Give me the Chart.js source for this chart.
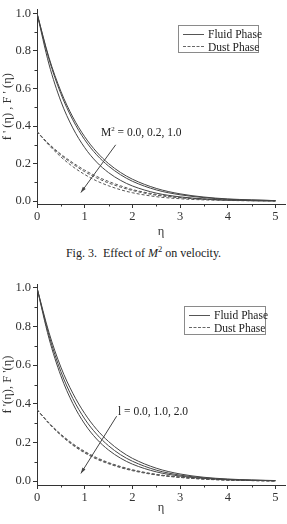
<!DOCTYPE html>
<html>
<head>
<meta charset="utf-8">
<script src="https://cdn.jsdelivr.net/npm/chart.js@4.4.0/dist/chart.umd.min.js"></script>
<style>
body{margin:0;background:#fff;width:287px;height:524px;position:relative;overflow:hidden;font-family:"Liberation Serif",serif;color:#222}
.box{position:absolute;left:0;width:287px}
.legend{position:absolute;border:1px solid #8a8a8a;font-size:11.5px;line-height:12px;padding:2px 4px 1px 4px;background:#fff;white-space:nowrap;box-sizing:border-box}
.legend .row{display:flex;align-items:center;height:12.5px}
.legend .ln{flex:none;width:21px;height:0;border-top:1px solid #555;margin-right:4px}
.legend .ln.dash{border-top:1px dashed #666}
.note{position:absolute;font-size:11.5px;white-space:nowrap}
.caption{position:absolute;top:246px;left:0;width:287px;text-align:center;font-size:12px;white-space:nowrap}
sup{font-size:7px;vertical-align:5px;line-height:0}
</style>
</head>
<body>
<div class="box" style="top:0;height:240px"><canvas id="c1" width="287" height="240"></canvas></div>
<div class="box" style="top:270px;height:254px"><canvas id="c2" width="287" height="254"></canvas></div>

<div class="legend" style="left:178px;top:25px;width:81px;height:28px">
  <div class="row"><div class="ln"></div>Fluid Phase</div>
  <div class="row"><div class="ln dash"></div>Dust Phase</div>
</div>
<div class="legend" style="left:184px;top:306px;width:82px;height:29px">
  <div class="row"><div class="ln"></div>Fluid Phase</div>
  <div class="row"><div class="ln dash"></div>Dust Phase</div>
</div>
<div class="note" style="left:101px;top:126px">M<sup>2</sup> = 0.0, 0.2, 1.0</div>
<div class="note" style="left:118px;top:405px">l = 0.0, 1.0, 2.0</div>
<div class="caption">Fig. 3.&nbsp; Effect of <i>M</i><sup style="font-size:8.5px">2</sup> on velocity.</div>

<script>
// eta grid
const eta = [0, 0.25, 0.5, 0.75, 1, 1.25, 1.5, 1.75, 2, 2.5, 3, 3.5, 4, 4.5, 5];

// Fig 3: M^2 = 0.0, 0.2, 1.0
const fluidM0 = [1, 0.765, 0.585, 0.448, 0.343, 0.262, 0.200, 0.153, 0.117, 0.068, 0.039, 0.022, 0.012, 0.007, 0.003];
const fluidM02 = [1, 0.757, 0.572, 0.433, 0.327, 0.247, 0.187, 0.141, 0.106, 0.060, 0.034, 0.019, 0.010, 0.006, 0.003];
const fluidM1 = [1, 0.730, 0.532, 0.390, 0.285, 0.208, 0.152, 0.111, 0.081, 0.043, 0.023, 0.012, 0.006, 0.003, 0.002];
const dustM0 = [0.37, 0.305, 0.250, 0.205, 0.165, 0.132, 0.105, 0.082, 0.062, 0.036, 0.020, 0.011, 0.006, 0.003, 0.001];
const dustM02 = [0.37, 0.303, 0.246, 0.198, 0.157, 0.124, 0.097, 0.075, 0.057, 0.032, 0.018, 0.010, 0.005, 0.003, 0.001];
const dustM1 = [0.37, 0.298, 0.236, 0.184, 0.142, 0.108, 0.082, 0.061, 0.045, 0.024, 0.013, 0.007, 0.004, 0.002, 0.001];

// Fig 4: l = 0.0, 1.0, 2.0
const fluidL0 = [1, 0.770, 0.590, 0.455, 0.350, 0.268, 0.205, 0.156, 0.118, 0.067, 0.037, 0.020, 0.011, 0.006, 0.003];
const fluidL1 = [1, 0.755, 0.567, 0.428, 0.322, 0.243, 0.183, 0.137, 0.103, 0.057, 0.031, 0.017, 0.009, 0.005, 0.002];
const fluidL2 = [1, 0.740, 0.545, 0.402, 0.296, 0.218, 0.161, 0.119, 0.088, 0.048, 0.026, 0.014, 0.007, 0.004, 0.002];
const dustL0 = [0.37, 0.302, 0.243, 0.194, 0.154, 0.122, 0.096, 0.076, 0.059, 0.035, 0.021, 0.012, 0.006, 0.003, 0.001];
const dustL1 = [0.37, 0.300, 0.240, 0.190, 0.150, 0.118, 0.093, 0.073, 0.057, 0.034, 0.020, 0.011, 0.006, 0.003, 0.001];
const dustL2 = [0.37, 0.298, 0.237, 0.186, 0.146, 0.114, 0.090, 0.070, 0.054, 0.032, 0.019, 0.010, 0.005, 0.003, 0.001];

const xTicks = [0, 1, 2, 3, 4, 5];
const xMinor = [0.5, 1.5, 2.5, 3.5, 4.5];
const yTicks = [0, 0.2, 0.4, 0.6, 0.8, 1.0];
const yMinor = [0.1, 0.3, 0.5, 0.7, 0.9];

const ink = '#333';
const font = { family: '"Liberation Serif", serif', size: 12.5 };

const pts = arr => arr.map((v, i) => ({ x: eta[i], y: v }));

function line(arr, dashed) {
    return {
        data: pts(arr),
        borderColor: dashed ? '#555' : '#444',
        borderWidth: 1,
        borderDash: dashed ? [3, 2] : [],
        pointRadius: 0,
        fill: false,
        cubicInterpolationMode: 'monotone'
    };
}

// minor ticks + the arrow across the curves
const extras = {
    id: 'extras',
    afterDraw(chart, args, opts) {
        const { ctx, scales: { x, y } } = chart;
        ctx.save();
        ctx.strokeStyle = ink;
        ctx.lineWidth = 1;
        xMinor.forEach(v => {
            const px = Math.round(x.getPixelForValue(v)) + 0.5;
            ctx.beginPath(); ctx.moveTo(px, y.bottom); ctx.lineTo(px, y.bottom + 2.5); ctx.stroke();
        });
        yMinor.forEach(v => {
            const py = Math.round(y.getPixelForValue(v)) + 0.5;
            ctx.beginPath(); ctx.moveTo(x.left, py); ctx.lineTo(x.left - 2.5, py); ctx.stroke();
        });
        const a = opts.arrow;
        const x0 = x.getPixelForValue(a[0]), y0 = y.getPixelForValue(a[1]);
        const x1 = x.getPixelForValue(a[2]), y1 = y.getPixelForValue(a[3]);
        ctx.strokeStyle = '#444';
        ctx.beginPath(); ctx.moveTo(x0, y0); ctx.lineTo(x1, y1); ctx.stroke();
        const ang = Math.atan2(y1 - y0, x1 - x0);
        ctx.fillStyle = '#444';
        ctx.beginPath();
        ctx.moveTo(x1, y1);
        ctx.lineTo(x1 - 6 * Math.cos(ang - 0.3), y1 - 6 * Math.sin(ang - 0.3));
        ctx.lineTo(x1 - 6 * Math.cos(ang + 0.3), y1 - 6 * Math.sin(ang + 0.3));
        ctx.closePath(); ctx.fill();
        ctx.restore();
    }
};

function makeChart(id, sets, cfg) {
    return new Chart(document.getElementById(id), {
        type: 'line',
        data: { datasets: sets },
        options: {
            responsive: false,
            animation: false,
            layout: { padding: { top: cfg.top, right: 2, left: 0, bottom: 0 } },
            plugins: { legend: { display: false }, tooltip: { enabled: false }, extras: { arrow: cfg.arrow } },
            scales: {
                x: {
                    type: 'linear', min: 0, max: 5.2,
                    afterBuildTicks: s => { s.ticks = xTicks.map(v => ({ value: v })); },
                    afterFit: s => { s.height = cfg.xh; },
                    ticks: { color: ink, font, padding: 1, maxRotation: 0, callback: v => String(v) },
                    grid: { drawOnChartArea: false, tickLength: 4, color: ink },
                    border: { color: ink },
                    title: { display: true, text: 'η', color: ink, font, padding: { top: 0, bottom: cfg.tb } }
                },
                y: {
                    min: cfg.ymin, max: 1.02,
                    afterBuildTicks: s => { s.ticks = yTicks.map(v => ({ value: v })); },
                    afterFit: s => { s.width = 37; },
                    ticks: { color: ink, font, padding: 2, callback: v => v.toFixed(1) },
                    grid: { drawOnChartArea: false, tickLength: 4, color: ink },
                    border: { color: ink },
                    title: { display: true, text: cfg.ytitle, color: ink, font, padding: { top: 0, bottom: 0 } }
                }
            }
        },
        plugins: [extras]
    });
}

makeChart('c1', [
    line(fluidM0), line(fluidM02), line(fluidM1),
    line(dustM0, true), line(dustM02, true), line(dustM1, true)
], { top: 2, xh: 36, tb: 1, ymin: -0.015, ytitle: "f ' (η) , F ' (η)", arrow: [1.65, 0.30, 0.92, 0.046] });

makeChart('c2', [
    line(fluidL0), line(fluidL1), line(fluidL2),
    line(dustL0, true), line(dustL1, true), line(dustL2, true)
], { top: 14, xh: 39, tb: 9, ymin: -0.02, ytitle: "f '(η), F '(η)", arrow: [1.67, 0.336, 0.92, 0.04] });
</script>
</body>
</html>
